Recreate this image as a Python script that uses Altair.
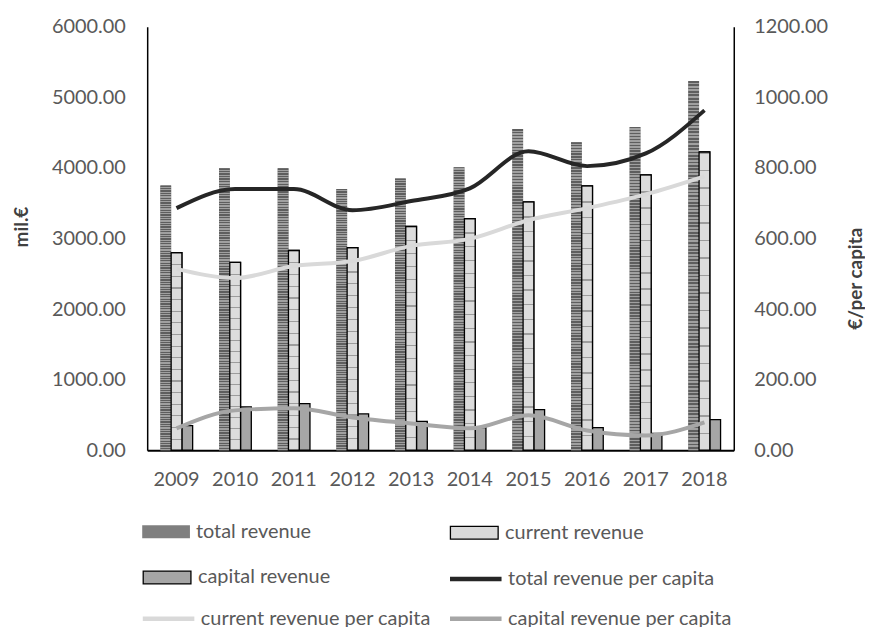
import altair as alt
import pandas as pd

years = ["2009", "2010", "2011", "2012", "2013", "2014", "2015", "2016", "2017", "2018"]

total_revenue = [3750, 3995, 3995, 3700, 3850, 4010, 4550, 4365, 4580, 5230]
current_revenue = [2800, 2660, 2830, 2870, 3170, 3280, 3520, 3745, 3900, 4225]
capital_revenue = [350, 615, 660, 515, 410, 320, 575, 320, 240, 435]

total_pc = [686, 740, 740, 680, 706, 742, 847, 805, 841, 963]
current_pc = [514, 488, 522, 536, 579, 599, 652, 686, 725, 776]
capital_pc = [62, 113, 119, 93, 76, 62, 99, 56, 42, 79]

bar_series = ["total revenue", "current revenue", "capital revenue"]
line_series = ["total revenue per capita", "current revenue per capita", "capital revenue per capita"]

left_ticks = [0, 1000, 2000, 3000, 4000, 5000, 6000]
right_ticks = [0, 200, 400, 600, 800, 1000, 1200]

rows = []
for s, vals in zip(bar_series, [total_revenue, current_revenue, capital_revenue]):
    for y, v in zip(years, vals):
        rows.append({"year": y, "series": s, "value": v})
df_bars = pd.DataFrame(rows)

rows = []
for s, vals in zip(line_series, [total_pc, current_pc, capital_pc]):
    for y, v in zip(years, vals):
        rows.append({"year": y, "series": s, "value": v})
df_lines = pd.DataFrame(rows)

FONT = "Lato"
LABEL_COLOR = "#595959"
TITLE_COLOR = "#404040"


def stripes(n, c1, c2, frac):
    stops = []
    for i in range(n):
        a = i / n
        b = (i + frac) / n
        c = (i + 1) / n
        stops += [
            {"offset": a, "color": c1},
            {"offset": b, "color": c1},
            {"offset": b, "color": c2},
            {"offset": c, "color": c2},
        ]
    return {"gradient": "linear", "x1": 0, "y1": 0, "x2": 0, "y2": 1, "stops": stops}


total_fill = stripes(110, "#5e5e5e", "#a0a0a0", 0.5)
current_fill = stripes(17, "#9c9c9c", "#dcdcdc", 0.09)

x_enc = alt.X(
    "year:N",
    sort=years,
    scale=alt.Scale(paddingInner=0.45, paddingOuter=0.225),
    axis=alt.Axis(
        title=None, labelAngle=0, ticks=False, labelFont=FONT, labelFontSize=20,
        labelColor=LABEL_COLOR, labelPadding=19, domainColor="black", domainWidth=2,
    ),
)
xoff = alt.XOffset("series:N", scale=alt.Scale(domain=bar_series), sort=bar_series)

left_axis = alt.Axis(
    title="mil.€", values=left_ticks, format=".2f", ticks=False, grid=False,
    labelFont=FONT, labelFontSize=20, labelColor=LABEL_COLOR, labelPadding=22,
    titleFont=FONT, titleFontSize=19, titleFontWeight="bold", titleColor=TITLE_COLOR,
    titleAngle=270, titleX=-126, titleY=201, titleAlign="center", titleBaseline="middle",
    domainColor="black", domainWidth=1.5,
)
right_axis = alt.Axis(
    orient="right", title="€/per capita", values=right_ticks, format=".2f", ticks=False,
    grid=False, labelFont=FONT, labelFontSize=20, labelColor=LABEL_COLOR, labelPadding=20,
    titleFont=FONT, titleFontSize=19, titleFontWeight="bold", titleColor=TITLE_COLOR,
    titleAngle=270, titleX=122, titleY=253, titleAlign="center", titleBaseline="middle",
    domainColor="black", domainWidth=1.5,
)

BAR_SYM = "M-1,-0.27H1V0.27H-1Z"
LINE_SYM = "M-1.08,0H1.08"


def leg(x, y, sym, stroke_color=None, stroke_width=0.0):
    kw = dict(
        title=None, orient="none", legendX=x, legendY=y, symbolType=sym, symbolSize=2304,
        labelFont=FONT, labelFontSize=20, labelColor=LABEL_COLOR, labelOffset=6,
        labelLimit=400, symbolOpacity=1, padding=0,
    )
    if stroke_color is not None:
        kw["symbolStrokeColor"] = stroke_color
    kw["symbolStrokeWidth"] = stroke_width
    return alt.Legend(**kw)


def bar_layer(name, color, stroke, sw, lx, ly, axis):
    mk = {"stroke": stroke, "strokeWidth": sw} if stroke else {"strokeWidth": 0}
    return (
        alt.Chart(df_bars)
        .transform_filter(alt.datum.series == name)
        .mark_bar(**mk)
        .encode(
            x=x_enc,
            xOffset=xoff,
            y=alt.Y("value:Q", scale=alt.Scale(domain=[0, 6000]), axis=axis),
            fill=alt.Fill(
                "series:N",
                scale=alt.Scale(domain=[name], range=[color]),
                legend=leg(lx, ly, BAR_SYM, stroke if stroke else None, sw if stroke else 0),
            ),
        )
    )


def overlay(name, fill, stroke, sw):
    mk = {"fill": fill}
    if stroke:
        mk.update(stroke=stroke, strokeWidth=sw)
    else:
        mk.update(strokeWidth=0)
    return (
        alt.Chart(df_bars)
        .transform_filter(alt.datum.series == name)
        .mark_bar(**mk)
        .encode(
            x=x_enc,
            xOffset=xoff,
            y=alt.Y("value:Q", scale=alt.Scale(domain=[0, 6000]), axis=None),
        )
    )


def line_layer(name, color, lx, ly, axis):
    return (
        alt.Chart(df_lines)
        .transform_filter(alt.datum.series == name)
        .mark_line(strokeWidth=4, interpolate="monotone")
        .encode(
            x=x_enc,
            y=alt.Y("value:Q", scale=alt.Scale(domain=[0, 1200]), axis=axis),
            stroke=alt.Stroke(
                "series:N",
                scale=alt.Scale(domain=[name], range=[color]),
                legend=leg(lx, ly, LINE_SYM, None, 4.5),
            ),
        )
    )


C1, C2 = -5, 304
R1, R2, R3 = 484, 529, 569

layers = [
    bar_layer("total revenue", "#7f7f7f", None, 0, C1, R1, left_axis),
    bar_layer("current revenue", "#d9d9d9", "black", 1.3, C2, R1, None),
    bar_layer("capital revenue", "#a6a6a6", "black", 1.3, C1, R2, None),
    overlay("total revenue", total_fill, None, 0),
    overlay("current revenue", current_fill, "black", 1.3),
    line_layer("total revenue per capita", "#262626", C2, R2, right_axis),
    line_layer("current revenue per capita", "#d9d9d9", C1, R3, None),
    line_layer("capital revenue per capita", "#a6a6a6", C2, R3, None),
]

chart = (
    alt.layer(*layers)
    .resolve_scale(y="independent", fill="independent", stroke="independent")
    .properties(
        width=590,
        height=426,
        autosize=alt.AutoSizeParams(type="none"),
        padding={"left": 140, "top": 17, "right": 132, "bottom": 182},
        background="white",
    )
    .configure_view(stroke=None)
)

chart.save("out.html", embed_options={"renderer": "svg", "actions": False})
